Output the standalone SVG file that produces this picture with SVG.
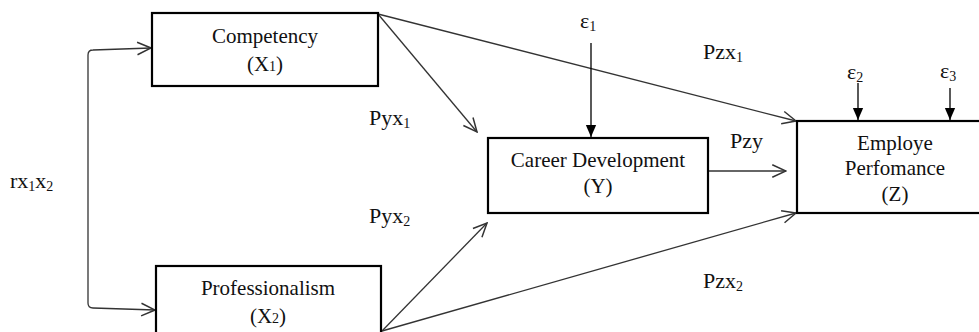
<svg xmlns="http://www.w3.org/2000/svg" width="979" height="332" viewBox="0 0 979 332">
<style>
  text { font-family: 'Liberation Serif', 'DejaVu Serif', serif; fill: #111; }
  .box { fill: #fff; stroke: #000; stroke-width: 2.2; }
  .t { font-size: 21px; text-anchor: middle; }
  .lbl { font-size: 22px; }
  .sub { font-size: 14px; }
  .conn { fill: none; stroke: #333; stroke-width: 1.3; }
  .err { fill: none; stroke: #000; stroke-width: 1.3; }
</style>
<defs>
  <marker id="open" markerUnits="userSpaceOnUse" markerWidth="16" markerHeight="16" viewBox="0 0 14 12" refX="13" refY="6" orient="auto">
    <path d="M1,0.5 L13,6 L1,11.5" fill="none" stroke="#333" stroke-width="1.3"/>
  </marker>
  <marker id="filled" markerUnits="userSpaceOnUse" markerWidth="12" markerHeight="14" viewBox="0 0 14 12" refX="14" refY="6" orient="auto">
    <path d="M0,0 L14,6 L0,12 Z" fill="#000"/>
  </marker>
</defs>

<g id="connectors">
  <path class="conn" d="M88,180 L88,55 Q88,50 93,50 L151,48" marker-end="url(#open)"/>
  <path class="conn" d="M88,180 L88,303 Q88,308 93,308 L155,310" marker-end="url(#open)"/>
  <line class="conn" x1="378" y1="14" x2="477" y2="132" marker-end="url(#open)"/>
  <line class="conn" x1="378" y1="14" x2="796" y2="121" marker-end="url(#open)"/>
  <line class="conn" x1="382" y1="331" x2="487" y2="223" marker-end="url(#open)"/>
  <line class="conn" x1="382" y1="331" x2="796" y2="213" marker-end="url(#open)"/>
  <line class="conn" x1="709" y1="171" x2="786" y2="171" marker-end="url(#open)"/>
  <line class="err" x1="591" y1="43" x2="591" y2="137" marker-end="url(#filled)"/>
  <line class="err" x1="858" y1="83" x2="858" y2="120" marker-end="url(#filled)"/>
  <line class="err" x1="950" y1="88" x2="950" y2="120" marker-end="url(#filled)"/>
</g>

<g id="competency">
  <rect class="box" x="152" y="13" width="226" height="73"/>
  <text class="t" x="265" y="43" font-family="Liberation Serif, serif">Competency</text>
  <text class="t" x="265" y="71" font-family="Liberation Serif, serif">(X<tspan class="sub">1</tspan>)</text>
</g>

<g id="professionalism">
  <rect class="box" x="156" y="266" width="225" height="72"/>
  <text class="t" x="268" y="295" font-family="Liberation Serif, serif">Professionalism</text>
  <text class="t" x="268" y="323" font-family="Liberation Serif, serif">(X<tspan class="sub">2</tspan>)</text>
</g>

<g id="career">
  <rect class="box" x="488" y="138" width="220" height="75"/>
  <text class="t" x="598" y="167" font-family="Liberation Serif, serif">Career Development</text>
  <text class="t" x="598" y="193" font-family="Liberation Serif, serif">(Y)</text>
</g>

<g id="performance">
  <rect class="box" x="797" y="121" width="190" height="92"/>
  <text class="t" x="895" y="150" font-family="Liberation Serif, serif">Employe</text>
  <text class="t" x="895" y="175" font-family="Liberation Serif, serif">Perfomance</text>
  <text class="t" x="895" y="201" font-family="Liberation Serif, serif">(Z)</text>
</g>

<g id="labels" font-family="Liberation Serif, serif">
  <text class="lbl" x="10" y="188">rx<tspan class="sub" dy="3">1</tspan><tspan dy="-3">x</tspan><tspan class="sub" dy="3">2</tspan></text>
  <text class="lbl" x="369" y="125">Pyx<tspan class="sub" dy="3">1</tspan></text>
  <text class="lbl" x="369" y="223">Pyx<tspan class="sub" dy="3">2</tspan></text>
  <text class="lbl" x="703" y="59">Pzx<tspan class="sub" dy="3">1</tspan></text>
  <text class="lbl" x="730" y="148">Pzy</text>
  <text class="lbl" x="703" y="288">Pzx<tspan class="sub" dy="3">2</tspan></text>
  <text class="lbl" x="580" y="28">ε<tspan class="sub" dy="3">1</tspan></text>
  <text class="lbl" x="847" y="79">ε<tspan class="sub" dy="3">2</tspan></text>
  <text class="lbl" x="940" y="78">ε<tspan class="sub" dy="3">3</tspan></text>
</g>
</svg>
